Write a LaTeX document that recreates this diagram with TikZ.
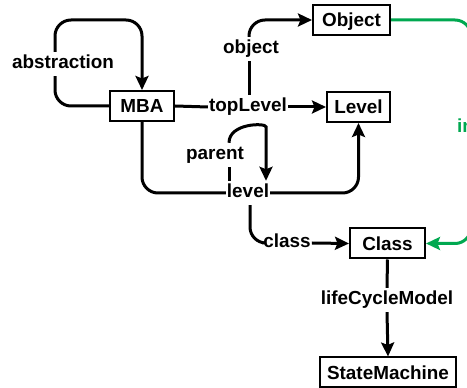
\documentclass[tikz,border=0pt]{standalone}
\usepackage{fontspec}
\setmainfont{Liberation Sans}
\usetikzlibrary{arrows.meta}
\definecolor{instgreen}{RGB}{0,168,80}
\begin{document}
\begin{tikzpicture}[x=1pt,y=1pt,
  every node/.style={font=\fontsize{18.9}{22}\selectfont\bfseries},
  box/.style={draw, line width=2pt, minimum height=30pt, inner xsep=2pt,
    inner ysep=0pt, text height=13.6pt, text depth=0pt},
  lbl/.style={inner xsep=1pt, inner ysep=3pt, text height=14pt, text depth=4pt},
  link/.style={line width=3pt, rounded corners=16pt},
  arr/.style={link, -{Stealth[length=14pt,width=13pt,inset=2.5pt]}},
]
\clip (0,0) rectangle (467,388);

% classes
\node[box, minimum width=64pt]  (MBA)    at (142,282)   {MBA};
\node[box, minimum width=77pt]  (Object) at (351.5,368) {Object};
\node[box, minimum width=63pt]  (Level)  at (358.5,281) {Level};
\node[box, minimum width=75pt]  (Class)  at (387.5,144.5) {Class};
\node[box, minimum width=136pt] (SM)     at (388,15.5)  {StateMachine};

% association labels
\node[lbl] (abstraction) at (63,324)  {abstraction};
\node[lbl] (object)      at (251,339) {object};
\node[lbl] (topLevel)    at (248,281) {topLevel};
\node[lbl] (parent)      at (215,233) {parent};
\node[lbl] (level)       at (248,195) {level};
\node[lbl] (class)       at (287,145) {class};
\node[lbl] (lcm)         at (387,88)  {lifeCycleModel};
\node[lbl, text=instgreen, anchor=west] (inst) at (456,260) {instanceOf};

% routing columns
\coordinate (ax) at (55,0);
\coordinate (absTop) at (142,368);
\coordinate (ox) at (249,0);
\coordinate (px) at (229,0);
\coordinate (qx) at (266,0);
\coordinate (cx) at (250,0);
\coordinate (gx) at (471,0);

% abstraction
\draw[link] (MBA.west) -| (abstraction.south -| ax);
\draw[arr] (abstraction.north -| ax) |- (absTop) -- (MBA.north);
% topLevel
\draw[link] (MBA.east) -- (topLevel.west);
\draw[arr] (topLevel.east) -- (Level.west);
% object
\draw[link] (topLevel.north -| ox) -- (object.south -| ox);
\draw[arr] (object.north -| ox) |- (Object.west);
% level
\draw[link] (MBA.south) |- (level.west);
\draw[arr] (level.east) -| (Level.south);
% parent
\draw[link] (level.north -| px) -- (parent.south -| px);
\draw[arr] (parent.north -| px) .. controls +(0,20) and +(0,20) .. (parent.north -| qx) -- (level.north -| qx);
% class
\draw[link] (level.south -| cx) |- (class.west);
\draw[arr] (class.east) -- (Class.west);
% lifeCycleModel
\draw[link] (Class.south) -- (lcm.north);
\draw[arr] (lcm.south) -- (SM.north);
% instanceOf
\draw[link, instgreen] (Object.east) -| (inst.north -| gx);
\draw[arr, instgreen] (inst.south -| gx) |- (Class.east);
\end{tikzpicture}
\end{document}
